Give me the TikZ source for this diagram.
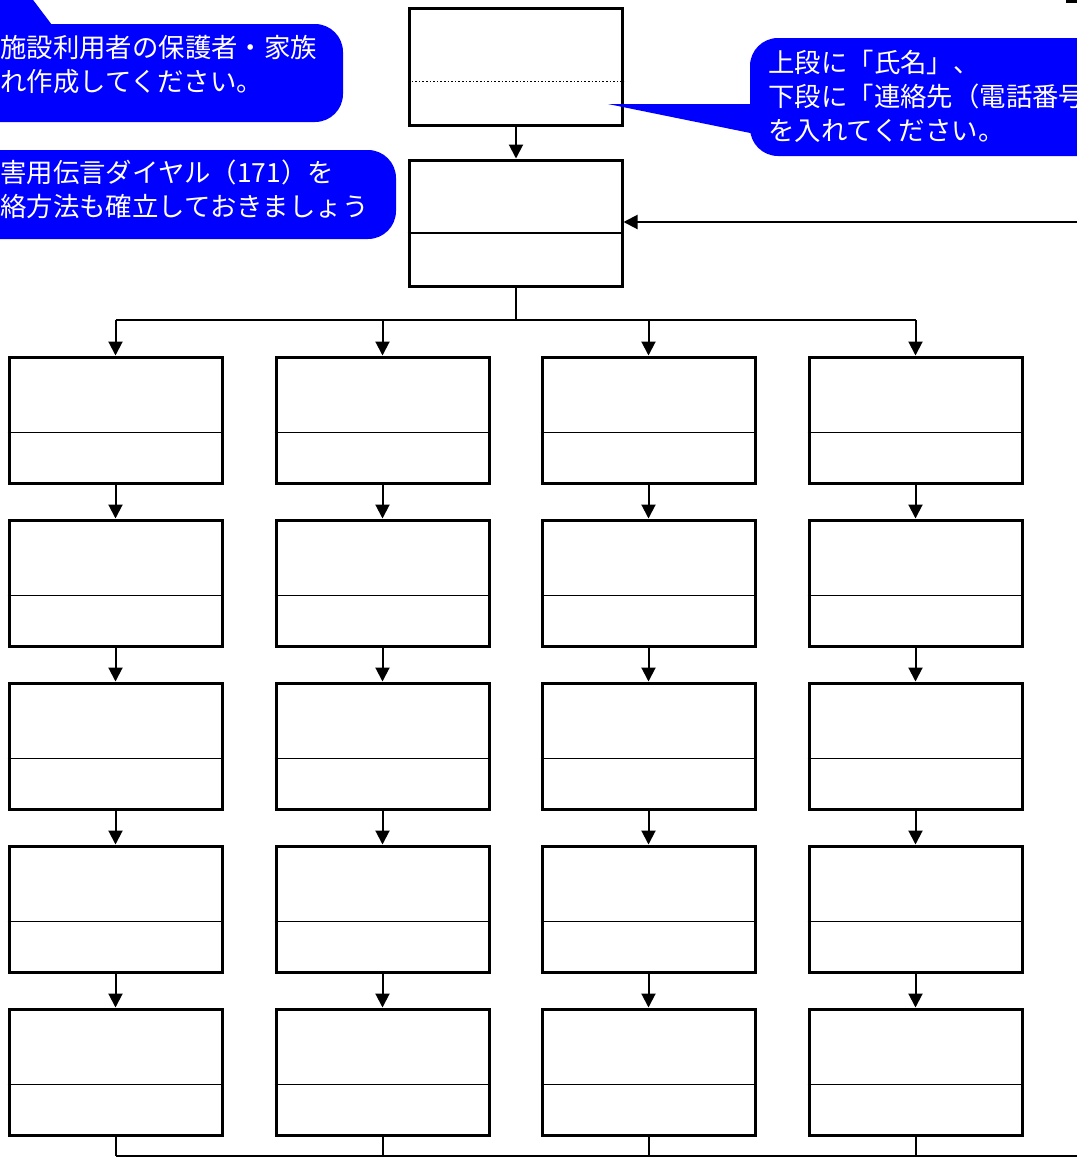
\documentclass[tikz,border=0pt]{standalone}
\usepackage{fontspec}
\newfontfamily\jpfont{Noto Sans CJK JP}
\usetikzlibrary{calc}
\usetikzlibrary{arrows.meta}
\tikzset{>={Triangle[width=7pt,length=7pt]}}
\definecolor{calloutblue}{RGB}{0,0,255}
\tikzset{
  namebox/.style={draw, line width=1.5pt, minimum width=106.5pt, minimum height=63pt, inner sep=0pt},
  divider/.style={line width=0.7pt},
  link/.style={line width=1pt},
  balloon/.style={fill=calloutblue, rounded corners=14pt},
  balloontext/.style={text=white, font=\jpfont\fontsize{13.2pt}{17pt}\selectfont, align=left, anchor=base west, inner sep=0pt},
}

\begin{document}
\begin{tikzpicture}[x=0.5pt, y=-0.5pt]
    \useasboundingbox (0,0) rectangle (1077,1158);
    \clip (0,0) rectangle (1077,1158);

    % head boxes
    \node[namebox, minimum height=58.5pt] (head) at (516,66.5) {};
    \draw[line width=0.8pt, densely dotted] ($(head.north west)!0.624!(head.south west)$) -- ($(head.north east)!0.624!(head.south east)$);
    \node[namebox] (hub) at (515.5,223) {};
    \draw[line width=1pt] ($(hub.north west)!0.58!(hub.south west)$) -- ($(hub.north east)!0.58!(hub.south east)$);
    \draw[link,->] (head.south) -- (head.south |- hub.north);

    \coordinate (feed) at (1080,222);
    \draw[link,->] (feed) -- (hub.east |- feed);
    \draw[line width=1.5pt] (1066,1) -- (1080,1);

    % columns
    \coordinate (split) at (515,320);
    \coordinate (merge) at (1080,1156);
    \foreach \col/\cx in {1/115.5,2/382.5,3/648.5,4/915.5}{
        \foreach \row in {1,...,5}{
            \node[namebox] (c\col-\row) at (\cx,{420+163*(\row-1)}) {};
            \draw[divider] ($(c\col-\row.north west)!0.595!(c\col-\row.south west)$) -- ($(c\col-\row.north east)!0.595!(c\col-\row.south east)$);
        }
        \foreach \row [count=\next from 2] in {1,...,4}{
            \draw[link,->] (c\col-\row.south) -- (c\col-\next.north);
        }
        \draw[link,->] (c\col-1.north |- split) -- (c\col-1.north);
        \draw[link] (c\col-5.south) -- (c\col-5.south |- merge);
    }
    \draw[link] (hub.south) -- (hub.south |- split);
    \draw[link] (c1-1.north |- split) -- (c4-1.north |- split);
    \draw[link] (c1-5.south |- merge) -- (merge);

    % callouts
    \fill[calloutblue] (-30,-20) -- (18,-20) -- (52,25) -- (-30,25) -- cycle;
    \fill[balloon] (-30,24) rectangle (343,122);
    \node[balloontext] (note1) at (0,91) {施設利用者の保護者・家族\\れ作成してください。};

    \fill[balloon] (-30,150) rectangle (396,239);
    \node[balloontext] (note2) at (0,216) {害用伝言ダイヤル（171）を\\絡方法も確立しておきましょう};

    \fill[calloutblue] (608,104) -- (770,104) -- (770,137) -- cycle;
    \fill[balloon] (750,38) rectangle (1110,156);
    \node[balloontext] (note3) at (768,140) {上段に「氏名」、\\下段に「連絡先（電話番号\\を入れてください。};
\end{tikzpicture}
\end{document}
